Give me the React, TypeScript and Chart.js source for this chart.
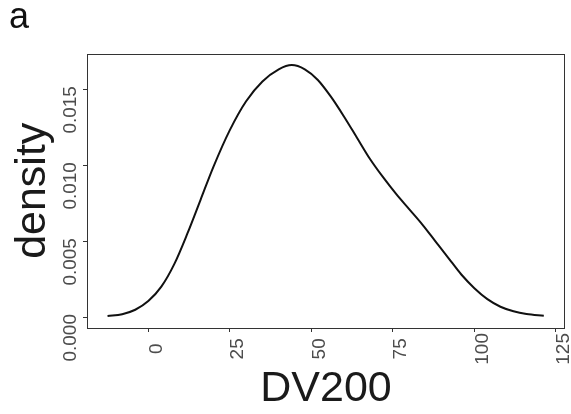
import React, { useEffect, useRef } from "react";
import { Chart, registerables } from "chart.js";

Chart.register(...registerables);

// ---- data ----
const DV200 = [
  -12.5, -8, -4, 0, 4, 8, 12, 16, 20, 25, 30, 35, 40, 44, 48, 52, 56, 60, 64,
  68, 72, 76, 80, 84, 88, 92, 96, 100, 104, 108, 112, 116, 121.3,
];
const DENSITY = [
  0.00007, 0.00019, 0.00048, 0.00105, 0.002, 0.0035, 0.0055, 0.0077, 0.0099,
  0.0123, 0.0142, 0.0155, 0.0163, 0.01658, 0.0163, 0.0156, 0.0145, 0.0132,
  0.0118, 0.0104, 0.0092, 0.0081, 0.0071, 0.0061, 0.005, 0.0039, 0.0028,
  0.0019, 0.00118, 0.00068, 0.00038, 0.0002, 0.00009,
];
const X_TICKS = [0, 25, 50, 75, 100, 125];
const X_TICK_LABELS = ["0", "25", "50", "75", "100", "125"];
const Y_TICKS = [0, 0.005, 0.01, 0.015];
const Y_TICK_LABELS = ["0.000", "0.005", "0.010", "0.015"];
const X_RANGE = [-18.8, 127.8];
const Y_RANGE = [-0.00072, 0.01734];
const PANEL_LABEL = "a";
const X_TITLE = "DV200";
const Y_TITLE = "density";

const FONT = "'Liberation Sans', Arial, Helvetica, sans-serif";

const framePlugin = {
  id: "panelFrame",
  afterDatasetsDraw(chart: any) {
    const { ctx, chartArea } = chart;
    ctx.save();
    ctx.strokeStyle = "#333333";
    ctx.lineWidth = 1;
    ctx.strokeRect(
      Math.round(chartArea.left) + 0.5,
      Math.round(chartArea.top) + 0.5,
      Math.round(chartArea.right - chartArea.left) - 1,
      Math.round(chartArea.bottom - chartArea.top) - 1
    );
    ctx.restore();
  },
};

export default function App() {
  const ref = useRef<HTMLCanvasElement | null>(null);

  useEffect(() => {
    if (!ref.current) return;
    const points = DV200.map((x, i) => ({ x, y: DENSITY[i] }));
    const chart = new Chart(ref.current, {
      type: "line",
      data: {
        datasets: [
          {
            data: points,
            borderColor: "#111111",
            borderWidth: 2,
            pointRadius: 0,
            fill: false,
            cubicInterpolationMode: "monotone",
          },
        ],
      },
      plugins: [framePlugin],
      options: {
        responsive: false,
        animation: false,
        layout: { padding: { left: 9, right: 6, top: 0, bottom: 0 } },
        plugins: {
          legend: { display: false },
          tooltip: { enabled: false },
          title: {
            display: true,
            text: PANEL_LABEL,
            align: "start",
            color: "#111111",
            font: { family: FONT, size: 36, lineHeight: 1, weight: "normal" },
            padding: { top: 0, bottom: 17.5 },
          },
        },
        scales: {
          x: {
            type: "linear",
            min: X_RANGE[0],
            max: X_RANGE[1],
            afterBuildTicks: (scale: any) => {
              scale.ticks = X_TICKS.map((v) => ({ value: v }));
            },
            afterFit: (scale: any) => {
              scale.height = 86;
              scale.paddingLeft = 0;
              scale.paddingRight = 0;
            },
            border: { display: false },
            grid: {
              display: true,
              drawOnChartArea: false,
              drawTicks: true,
              tickLength: 4,
              tickColor: "#333333",
              tickWidth: 1,
            },
            ticks: {
              autoSkip: false,
              minRotation: 90,
              maxRotation: 90,
              padding: 1,
              labelOffset: 8,
              color: "#4d4d4d",
              font: { family: FONT, size: 19 },
              callback: (_v: any, i: number) => {
                const s = X_TICK_LABELS[i] ?? "";
                return s + " ".repeat(Math.max(0, 3 - s.length));
              },
            },
            title: {
              display: true,
              text: X_TITLE,
              color: "#1a1a1a",
              font: { family: FONT, size: 43, lineHeight: 1 },
              padding: { top: 0, bottom: 3 },
            },
          },
          y: {
            type: "linear",
            min: Y_RANGE[0],
            max: Y_RANGE[1],
            afterBuildTicks: (scale: any) => {
              scale.ticks = Y_TICKS.map((v) => ({ value: v }));
            },
            afterFit: (scale: any) => {
              scale.width = 78;
              scale.paddingTop = 0;
              scale.paddingBottom = 0;
            },
            border: { display: false },
            grid: {
              display: true,
              drawOnChartArea: false,
              drawTicks: true,
              tickLength: 4,
              tickColor: "#333333",
              tickWidth: 1,
            },
            ticks: {
              autoSkip: false,
              minRotation: 90,
              maxRotation: 90,
              padding: 12,
              labelOffset: -3,
              color: "#4d4d4d",
              font: { family: FONT, size: 19 },
              callback: (_v: any, i: number) => Y_TICK_LABELS[i] ?? "",
            },
            title: {
              display: true,
              text: Y_TITLE,
              color: "#1a1a1a",
              font: { family: FONT, size: 43, lineHeight: 1 },
              padding: { top: 3, bottom: 0 },
            },
          },
        },
      } as any,
    });
    return () => chart.destroy();
  }, []);

  return (
    <canvas
      ref={ref}
      width={571}
      height={414}
      style={{ position: "absolute", left: 0, top: 0, width: 571, height: 414 }}
    />
  );
}
